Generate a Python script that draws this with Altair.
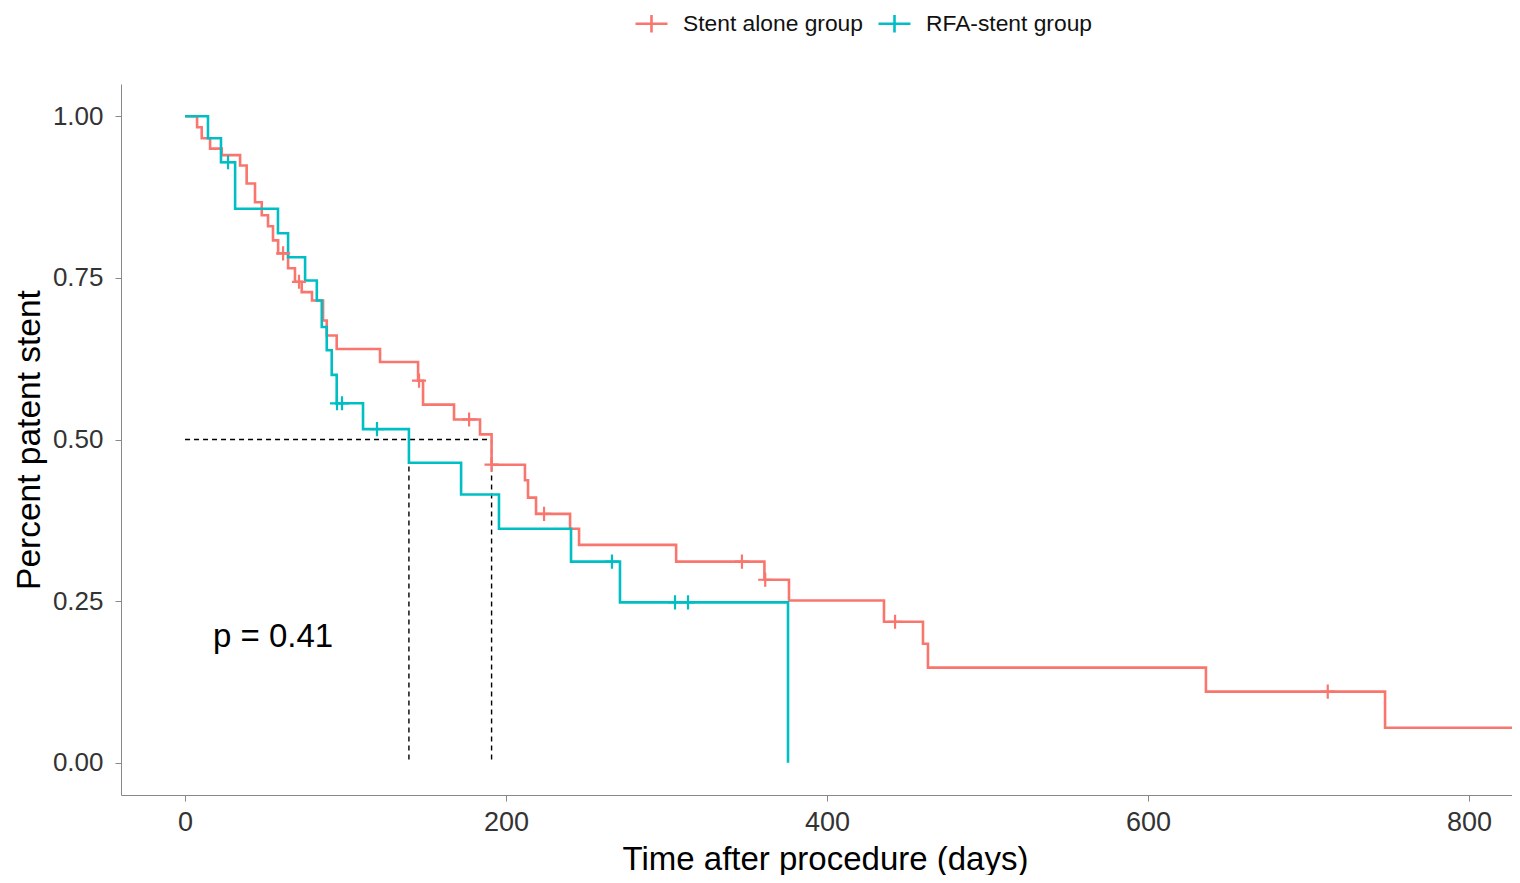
import altair as alt
import pandas as pd

# ---- data ----
groups = ["Stent alone group", "RFA-stent group"]
colors = ["#F8766D", "#00BFC4"]

stent_t = [0, 7.5, 10.4, 15.6, 22.9, 34.3, 38.4, 43.6, 47.8, 51.7, 54.8, 58, 64.2, 68.5, 72.7,
           79.1, 86, 88.3, 94.5, 121.5, 145.2, 148.3, 167.6, 183.8, 191, 211.8, 213.7, 218.7,
           239.9, 245.5, 306, 361, 376.3, 435.5, 459.8, 462.9, 636.1, 747.7, 840]
stent_s = [1.0, 0.983, 0.966, 0.950, 0.940, 0.924, 0.896, 0.867, 0.847, 0.830, 0.808, 0.788,
           0.765, 0.744, 0.728, 0.715, 0.684, 0.661, 0.640, 0.620, 0.591, 0.554, 0.531, 0.508,
           0.461, 0.437, 0.410, 0.385, 0.362, 0.337, 0.311, 0.283, 0.251, 0.218, 0.184, 0.147,
           0.110, 0.054, 0.054]
stent_cens_t = [61.1, 71, 145.8, 177, 191, 223.7, 347, 361.5, 442.4, 712]
stent_cens_s = [0.788, 0.744, 0.591, 0.531, 0.461, 0.385, 0.311, 0.283, 0.218, 0.110]

rfa_t = [0, 14.3, 22.4, 31.2, 57.9, 64.2, 74.8, 82.1, 85.2, 88.3, 91.4, 94.5, 110.9, 139.5,
         172, 195.6, 240.5, 271, 375.7]
rfa_s = [1.0, 0.966, 0.929, 0.857, 0.819, 0.782, 0.746, 0.715, 0.674, 0.638, 0.600, 0.556,
         0.516, 0.464, 0.415, 0.362, 0.311, 0.248, 0.0]
rfa_cens_t = [26.8, 94.7, 97.8, 119.6, 266, 305.3, 313.4]
rfa_cens_s = [0.929, 0.556, 0.556, 0.516, 0.311, 0.248, 0.248]

median_t = [139.5, 191]
p_label = "p = 0.41"
p_pos = [17.4, 0.195]

x_ticks = [0, 200, 400, 600, 800]
y_ticks = [0.0, 0.25, 0.50, 0.75, 1.00]

# ---- tables ----
lines = pd.concat([
    pd.DataFrame({"group": groups[0], "t": stent_t, "s": stent_s}),
    pd.DataFrame({"group": groups[1], "t": rfa_t, "s": rfa_s}),
])
cens = pd.concat([
    pd.DataFrame({"group": groups[0], "t": stent_cens_t, "s": stent_cens_s}),
    pd.DataFrame({"group": groups[1], "t": rfa_cens_t, "s": rfa_cens_s}),
])
med_h = pd.DataFrame({"x": [0], "x2": [max(median_t)], "y": [0.5], "y2": [0.5]})
med_v = pd.DataFrame({"x": median_t, "x2": median_t, "y": [0.5, 0.5], "y2": [0.0, 0.0]})
med = pd.concat([med_h, med_v])
ptxt = pd.DataFrame({"t": [p_pos[0]], "s": [p_pos[1]], "label": [p_label]})

FONT = "Liberation Sans"

xscale = alt.Scale(domain=[-39.9, 826.8], nice=False, zero=False)
yscale = alt.Scale(domain=[-0.05, 1.05], nice=False, zero=False)
cscale = alt.Scale(domain=groups, range=colors)

xaxis = alt.Axis(values=x_ticks, title="Time after procedure (days)", grid=False,
                 labelFontSize=27, labelColor="#333333", labelPadding=8, tickSize=6,
                 titleFontSize=33, titleFontWeight="normal", titleColor="black",
                 titlePadding=8, titleX=704, titleAlign="center", format="d")
yaxis = alt.Axis(values=y_ticks, title="Percent patent stent", grid=False, format=".2f",
                 labelFontSize=26, labelColor="#333333", labelPadding=12, tickSize=6,
                 titleFontSize=33.5, titleFontWeight="normal", titleColor="black",
                 titlePadding=6)

legend_sym = "M-1,0L1,0M0,-0.55L0,0.55"

line_layer = alt.Chart(lines).mark_line(interpolate="step-after", strokeWidth=2.6, clip=True).encode(
    x=alt.X("t:Q", scale=xscale, axis=xaxis),
    y=alt.Y("s:Q", scale=yscale, axis=yaxis),
    color=alt.Color("group:N", scale=cscale, sort=groups,
                    legend=alt.Legend(title=None, orient="none", direction="horizontal",
                                      legendX=513, legendY=-78,
                                      symbolType=legend_sym, symbolSize=1024,
                                      symbolStrokeWidth=2.6, labelFontSize=22.8,
                                      labelColor="#111111", labelOffset=14, labelLimit=1000,
                                      columnPadding=10, labelFont=FONT)),
    detail="group:N",
)

cens_layer = alt.Chart(cens).mark_point(shape="M-1,0L1,0M0,-1L0,1", size=200, filled=False,
                                        strokeWidth=2.2, opacity=1).encode(
    x=alt.X("t:Q", scale=xscale),
    y=alt.Y("s:Q", scale=yscale),
    color=alt.Color("group:N", scale=cscale, legend=None),
)

med_layer = alt.Chart(med).mark_rule(color="black", strokeDash=[5, 4], strokeWidth=1.4).encode(
    x=alt.X("x:Q", scale=xscale), x2="x2:Q",
    y=alt.Y("y:Q", scale=yscale), y2="y2:Q",
)

p_layer = alt.Chart(ptxt).mark_text(align="left", baseline="middle", fontSize=33, font=FONT,
                                    color="black").encode(
    x=alt.X("t:Q", scale=xscale),
    y=alt.Y("s:Q", scale=yscale),
    text="label:N",
)

chart = alt.layer(med_layer, line_layer, cens_layer, p_layer).properties(
    width=1391, height=711,
    autosize=alt.AutoSizeParams(type="none"),
    padding={"left": 113, "top": 76, "right": 0, "bottom": 80},
    view=alt.ViewBackground(stroke="transparent", strokeWidth=0, fill="white"),
).configure_view(strokeWidth=0, stroke="transparent", strokeOpacity=0).configure_axis(
    domainColor="black", domainWidth=1.4, tickColor="black", tickWidth=1.4,
    labelFont=FONT, titleFont=FONT,
).configure(font=FONT, background="white")

chart.save("out.html", embed_options={"renderer": "svg", "actions": False})
